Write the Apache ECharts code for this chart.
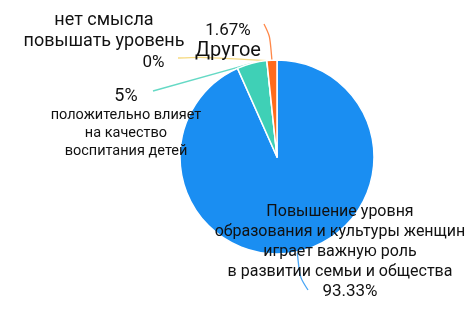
<!DOCTYPE html>
<html>
<head>
<meta charset="utf-8">
<style>
html,body{margin:0;padding:0;background:#fff;}
#c{width:473px;height:309px;}
</style>
<script src="https://cdn.jsdelivr.net/npm/echarts@6/dist/echarts.min.js"></script>
</head>
<body>
<div id="c"></div>
<script>
// Data
const categories = [
  'Повышение уровня\nобразования и культуры женщин\nиграет важную роль\nв развитии семьи и общества',
  'положительно влияет\nна качество\nвоспитания детей',
  'нет смысла\nповышать уровень',
  'Другое'
];
const values = [93.33, 5, 0, 1.67];
const valueLabels = ['93.33%', '5%', '0%', '1.67%'];
const colors = ['#1a8ef2', '#3fd0b6', '#f2d060', '#ff6a1c'];

// label placement (center x, top y) and label line end points
const labelPos = [[340, 202], [126, 86], [104, 10], [228, 21]];
const lineBends = [
  [[300, 278], [308, 290]],
  [[153, 91]],
  [[200, 57], [178, 58]],
  [[270, 36], [264, 24]]
];

const chart = echarts.init(document.getElementById('c'));
const font = 'Roboto, "Noto Sans", sans-serif';
chart.setOption({
  animation: false,
  series: [{
    type: 'pie',
    center: [277, 157],
    radius: 97,
    startAngle: 90,
    clockwise: true,
    avoidLabelOverlap: false,
    itemStyle: { borderColor: '#fff', borderWidth: 1.5 },
    data: categories.map((n, i) => ({
      name: n, value: values[i],
      itemStyle: { color: colors[i] },
      labelLine: { lineStyle: { color: colors[i], opacity: 0.8, width: 1.3 } }
    })),
    label: {
      show: true,
      color: '#111',
      fontFamily: font,
      formatter: function (p) {
        const i = p.dataIndex;
        if (i === 0) return '{n0|' + categories[0].split('\n').join('}\n{n0|') + '}\n{v0|' + valueLabels[0] + '}';
        if (i === 1) return '{v1|' + valueLabels[1] + '}\n{n1|' + categories[1].split('\n').join('}\n{n1|') + '}';
        if (i === 2) return '{n2|' + categories[2].split('\n').join('}\n{n2|') + '}\n{v2|' + valueLabels[2] + '}';
        return '{v3|' + valueLabels[3] + '}\n{n3|' + categories[3] + '}';
      },
      rich: {
        n0: { fontSize: 16, lineHeight: 20, color: '#111', fontFamily: font, align: 'center' },
        v0: { fontSize: 17, lineHeight: 20, color: '#111', fontFamily: font, align: 'center', padding: [0, 0, 0, 20] },
        v1: { fontSize: 18, lineHeight: 20, color: '#111', fontFamily: font, align: 'center' },
        n1: { fontSize: 14.5, lineHeight: 18, color: '#111', fontFamily: font, align: 'center' },
        n2: { fontSize: 18, lineHeight: 21, color: '#111', fontFamily: font, align: 'center' },
        v2: { fontSize: 17, lineHeight: 21, color: '#111', fontFamily: font, align: 'right', padding: [0, 20, 0, 0] },
        v3: { fontSize: 17, lineHeight: 20, color: '#111', fontFamily: font, align: 'center' },
        n3: { fontSize: 20, lineHeight: 20, color: '#111', fontFamily: font, align: 'center' }
      }
    },
    labelLine: { show: true, smooth: 0.3, length: 10, length2: 10 },
    labelLayout: function (p) {
      const i = p.dataIndex;
      const start = p.labelLinePoints ? p.labelLinePoints[0] : null;
      const res = {
        x: labelPos[i][0], y: labelPos[i][1],
        align: 'center', verticalAlign: 'top'
      };
      if (start) res.labelLinePoints = [start].concat(lineBends[i]);
      return res;
    }
  }]
});
</script>
</body>
</html>
